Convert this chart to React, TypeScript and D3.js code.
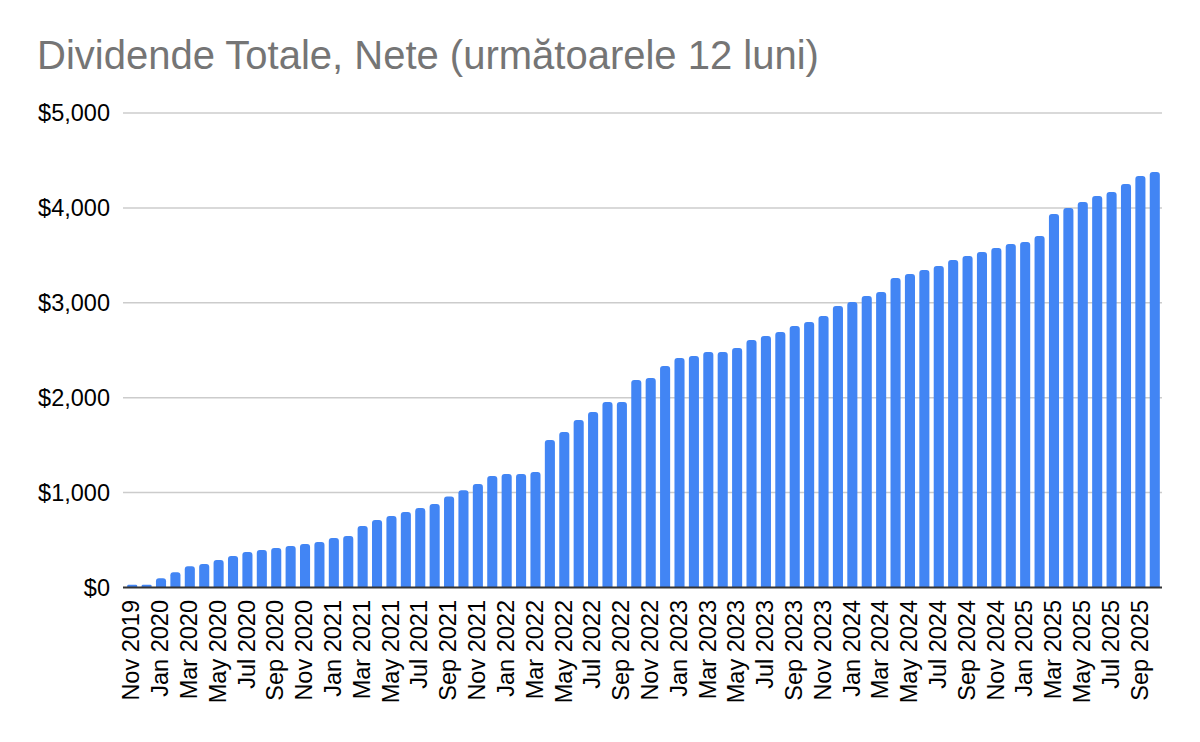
import { useEffect, useRef } from 'react'
import * as d3 from 'd3'

const months = [
  'Nov 2019', 'Dec 2019',
  'Jan 2020', 'Feb 2020', 'Mar 2020', 'Apr 2020', 'May 2020', 'Jun 2020',
  'Jul 2020', 'Aug 2020', 'Sep 2020', 'Oct 2020', 'Nov 2020', 'Dec 2020',
  'Jan 2021', 'Feb 2021', 'Mar 2021', 'Apr 2021', 'May 2021', 'Jun 2021',
  'Jul 2021', 'Aug 2021', 'Sep 2021', 'Oct 2021', 'Nov 2021', 'Dec 2021',
  'Jan 2022', 'Feb 2022', 'Mar 2022', 'Apr 2022', 'May 2022', 'Jun 2022',
  'Jul 2022', 'Aug 2022', 'Sep 2022', 'Oct 2022', 'Nov 2022', 'Dec 2022',
  'Jan 2023', 'Feb 2023', 'Mar 2023', 'Apr 2023', 'May 2023', 'Jun 2023',
  'Jul 2023', 'Aug 2023', 'Sep 2023', 'Oct 2023', 'Nov 2023', 'Dec 2023',
  'Jan 2024', 'Feb 2024', 'Mar 2024', 'Apr 2024', 'May 2024', 'Jun 2024',
  'Jul 2024', 'Aug 2024', 'Sep 2024', 'Oct 2024', 'Nov 2024', 'Dec 2024',
  'Jan 2025', 'Feb 2025', 'Mar 2025', 'Apr 2025', 'May 2025', 'Jun 2025',
  'Jul 2025', 'Aug 2025', 'Sep 2025', 'Oct 2025',
]

// net dividends, trailing 12 months (USD)
const dividends = [
  30, 30,
  97, 160, 225, 248, 290, 332, 374, 395, 416, 437, 458, 479,
  521, 543, 648, 711, 753, 796, 838, 880, 960, 1025, 1091, 1175,
  1196, 1196, 1217, 1554, 1639, 1765, 1849, 1955, 1955, 2187, 2208, 2334,
  2419, 2440, 2482, 2482, 2524, 2608, 2650, 2692, 2755, 2798, 2861, 2967,
  3008, 3072, 3114, 3261, 3303, 3345, 3387, 3451, 3493, 3535, 3577, 3619,
  3640, 3703, 3935, 3998, 4061, 4125, 4167, 4251, 4336, 4378,
]

const yTicks = [0, 1000, 2000, 3000, 4000, 5000]

const title = 'Dividende Totale, Nete (următoarele 12 luni)'

const width = 1200
const height = 742

export default function App() {
  const svgRef = useRef<SVGSVGElement>(null)

  useEffect(() => {
    if (!svgRef.current) return
    const svg = d3.select(svgRef.current)
    svg.selectAll('*').remove()

    const font = 'Arial, "Liberation Sans", sans-serif'

    const x = d3.scaleBand<string>()
      .domain(months)
      .range([125, 1162])
      .paddingInner(0.3)
      .paddingOuter(0.15)

    const y = d3.scaleLinear()
      .domain([0, 5000])
      .range([587.5, 113])

    svg.append('rect')
      .attr('width', width)
      .attr('height', height)
      .attr('fill', '#ffffff')

    // title
    svg.append('text')
      .attr('x', 37)
      .attr('y', 69)
      .attr('font-family', font)
      .attr('font-size', 40)
      .attr('fill', '#757575')
      .text(title)

    // gridlines
    svg.append('g')
      .selectAll('line')
      .data(yTicks.filter(t => t > 0))
      .join('line')
      .attr('x1', 123)
      .attr('x2', 1162)
      .attr('y1', d => y(d))
      .attr('y2', d => y(d))
      .attr('stroke', '#cccccc')
      .attr('stroke-width', 1.5)

    // y labels
    const fmt = d3.format('$,')
    svg.append('g')
      .selectAll('text')
      .data(yTicks)
      .join('text')
      .attr('x', 110)
      .attr('y', d => y(d))
      .attr('dy', '0.35em')
      .attr('text-anchor', 'end')
      .attr('font-family', font)
      .attr('font-size', 23.5)
      .attr('fill', '#000000')
      .text(d => fmt(d))

    // bars with rounded tops
    const bw = x.bandwidth()
    const r = 3
    svg.append('g')
      .selectAll('path')
      .data(dividends)
      .join('path')
      .attr('fill', '#4285f4')
      .attr('d', (d, i) => {
        const x0 = x(months[i])!
        const x1 = x0 + bw
        const top = y(d)
        const base = y(0)
        const rr = Math.min(r, (base - top) / 2)
        return `M${x0},${base}V${top + rr}Q${x0},${top} ${x0 + rr},${top}H${x1 - rr}Q${x1},${top} ${x1},${top + rr}V${base}Z`
      })

    // baseline
    svg.append('line')
      .attr('x1', 123)
      .attr('x2', 1162)
      .attr('y1', y(0))
      .attr('y2', y(0))
      .attr('stroke', '#333333')
      .attr('stroke-width', 2)

    // x labels, every other month
    svg.append('g')
      .selectAll('text')
      .data(months.filter((_, i) => i % 2 === 0))
      .join('text')
      .attr('transform', d => `translate(${x(d)! + bw / 2 - 1},600) rotate(-90)`)
      .attr('dy', '0.35em')
      .attr('text-anchor', 'end')
      .attr('font-family', font)
      .attr('font-size', 23.5)
      .attr('fill', '#000000')
      .text(d => d)
  }, [])

  return (
    <svg
      ref={svgRef}
      width={width}
      height={height}
      style={{ position: 'absolute', left: 0, top: 0, display: 'block' }}
    />
  )
}
